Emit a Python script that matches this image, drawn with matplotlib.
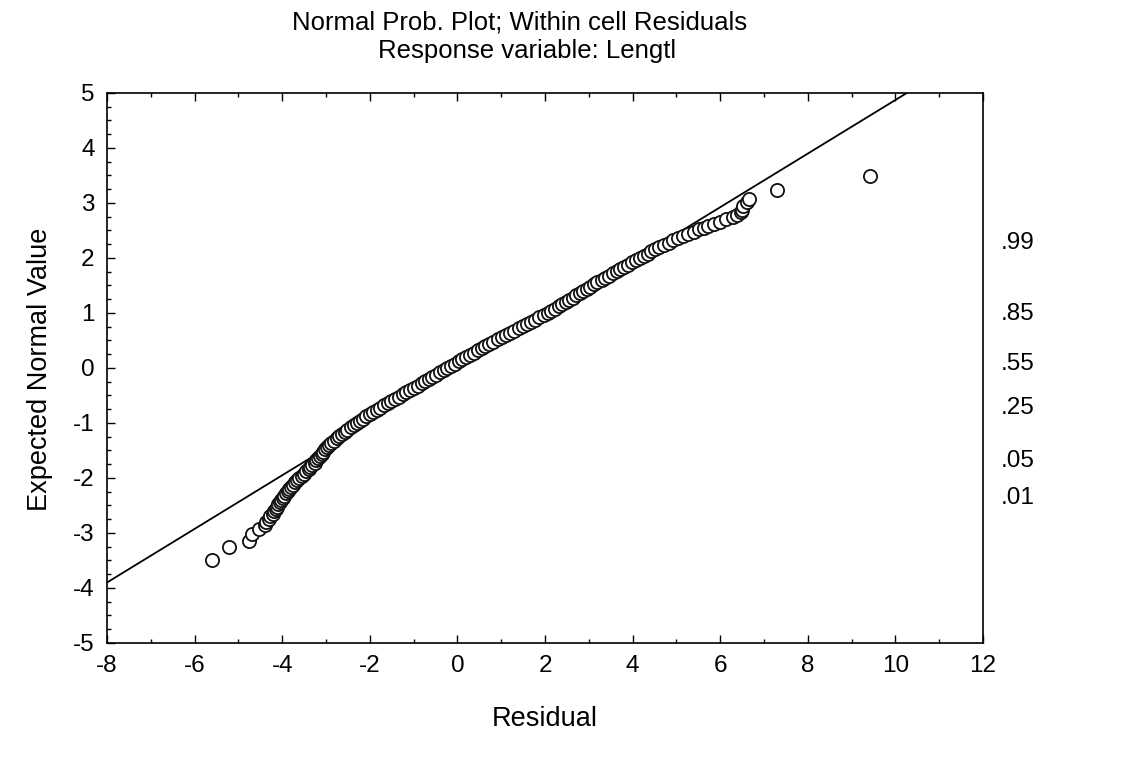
import matplotlib
matplotlib.use("Agg")
import matplotlib.pyplot as plt
from matplotlib.ticker import MultipleLocator

plt.rcParams["font.family"] = ["Liberation Sans", "DejaVu Sans"]
plt.rcParams["axes.unicode_minus"] = False

# residuals (x) and expected normal values (y)
residual = [
    -5.61, -5.21, -4.77, -4.69, -4.52, -4.40, -4.36, -4.30, -4.27, -4.22,
    -4.19, -4.15, -4.13, -4.09, -4.06, -4.03, -3.99, -3.95, -3.91, -3.87,
    -3.84, -3.80, -3.76, -3.71, -3.66, -3.61, -3.55, -3.50, -3.45, -3.40,
    -3.36, -3.31, -3.26, -3.22, -3.18, -3.14, -3.10, -3.06, -3.02, -2.98,
    -2.93, -2.88, -2.82, -2.76, -2.70, -2.64, -2.57, -2.51, -2.44, -2.37,
    -2.30, -2.23, -2.16, -2.08, -2.00, -1.92, -1.84, -1.76, -1.68, -1.59,
    -1.51, -1.42, -1.34, -1.25, -1.17, -1.08, -1.00, -0.91, -0.82, -0.74,
    -0.65, -0.57, -0.48, -0.40, -0.31, -0.23, -0.14, -0.06, 0.03, 0.11,
    0.20, 0.28, 0.37, 0.46, 0.55, 0.64, 0.73, 0.82, 0.92, 1.01,
    1.11, 1.20, 1.30, 1.40, 1.49, 1.59, 1.68, 1.78, 1.87, 1.97,
    2.06, 2.14, 2.23, 2.31, 2.39, 2.47, 2.55, 2.63, 2.71, 2.79,
    2.87, 2.95, 3.03, 3.11, 3.19, 3.30, 3.38, 3.47, 3.55, 3.64,
    3.72, 3.81, 3.89, 3.98, 4.07, 4.16, 4.25, 4.34, 4.43, 4.52,
    4.61, 4.71, 4.82, 4.93, 5.04, 5.15, 5.27, 5.39, 5.52, 5.62,
    5.72, 5.86, 6.00, 6.14, 6.29, 6.38, 6.47, 6.50, 6.51, 6.60,
    6.66, 7.29, 9.42,
]
expected = [
    -3.50, -3.26, -3.14, -3.02, -2.93, -2.86, -2.80, -2.75, -2.70, -2.65,
    -2.60, -2.56, -2.52, -2.48, -2.44, -2.40, -2.36, -2.32, -2.28, -2.24,
    -2.20, -2.16, -2.12, -2.08, -2.04, -2.00, -1.96, -1.92, -1.88, -1.84,
    -1.80, -1.76, -1.72, -1.68, -1.64, -1.60, -1.56, -1.52, -1.48, -1.44,
    -1.40, -1.36, -1.32, -1.28, -1.24, -1.20, -1.16, -1.12, -1.08, -1.04,
    -1.00, -0.96, -0.92, -0.88, -0.84, -0.80, -0.76, -0.72, -0.68, -0.64,
    -0.60, -0.56, -0.52, -0.48, -0.44, -0.40, -0.36, -0.32, -0.28, -0.24,
    -0.20, -0.16, -0.12, -0.08, -0.04, 0.00, 0.04, 0.08, 0.12, 0.16,
    0.20, 0.24, 0.28, 0.32, 0.36, 0.40, 0.44, 0.48, 0.52, 0.56,
    0.60, 0.64, 0.68, 0.72, 0.76, 0.80, 0.84, 0.88, 0.92, 0.96,
    1.00, 1.04, 1.08, 1.12, 1.16, 1.20, 1.24, 1.28, 1.32, 1.36,
    1.40, 1.44, 1.48, 1.52, 1.56, 1.60, 1.64, 1.68, 1.72, 1.76,
    1.80, 1.84, 1.88, 1.92, 1.96, 2.00, 2.04, 2.08, 2.12, 2.16,
    2.20, 2.24, 2.28, 2.32, 2.36, 2.40, 2.44, 2.48, 2.52, 2.55,
    2.58, 2.62, 2.66, 2.70, 2.74, 2.78, 2.83, 2.88, 2.95, 3.01,
    3.07, 3.24, 3.49,
]

# reference line (two ends)
line_x = [-8, 10.26]
line_y = [-3.90, 5.0]

# probability labels on the right axis
prob_labels = [".99", ".85", ".55", ".25", ".05", ".01"]
prob_z = [2.326, 1.036, 0.126, -0.674, -1.645, -2.326]

fig = plt.figure(figsize=(11.35, 7.66), dpi=100)
ax = fig.add_axes([0.0943, 0.1606, 0.7718, 0.718])

ax.plot(line_x, line_y, color="black", lw=1.3, zorder=2)
ax.scatter(residual, expected, s=90, facecolors="white", edgecolors="#111111",
           linewidths=1.3, zorder=3)

ax.set_xlim(-8, 12)
ax.set_ylim(-5, 5)
ax.xaxis.set_major_locator(MultipleLocator(2))
ax.xaxis.set_minor_locator(MultipleLocator(1))
ax.yaxis.set_major_locator(MultipleLocator(1))
ax.yaxis.set_minor_locator(MultipleLocator(0.25))
ax.tick_params(which="both", direction="in", top=True, right=True,
               labelsize=17.5, pad=9)
ax.tick_params(which="major", length=6, width=1)
ax.tick_params(which="minor", length=3, width=1)
for s in ax.spines.values():
    s.set_linewidth(1.2)

ax2 = ax.twinx()
ax2.set_ylim(-5, 5)
ax2.set_yticks(prob_z)
ax2.set_yticklabels(prob_labels)
ax2.tick_params(length=0, labelsize=17.5, pad=13)
ax2.spines[:].set_visible(False)

fig.text(0.458, 0.971, "Normal Prob. Plot; Within cell Residuals",
         ha="center", va="center", fontsize=18.5)
fig.text(0.464, 0.934, "Response variable: Lengtl",
         ha="center", va="center", fontsize=18.5)
fig.text(0.480, 0.062, "Residual", ha="center", va="center", fontsize=19.5)
fig.text(0.035, 0.518, "Expected Normal Value", ha="center", va="center",
         rotation=90, fontsize=19.5)

fig.savefig("out.png", dpi=100, facecolor="white")
